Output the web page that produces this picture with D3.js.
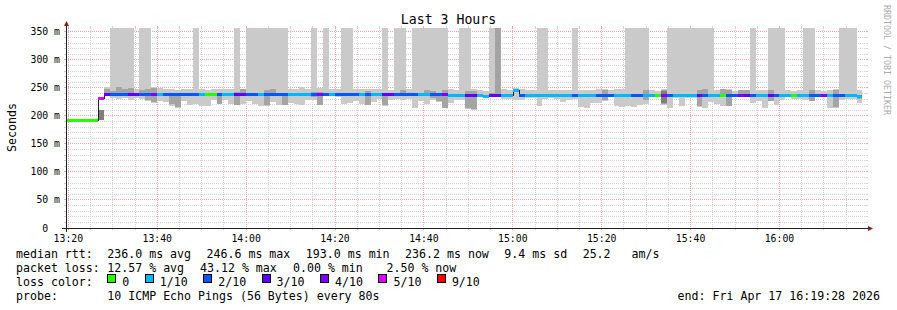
<!DOCTYPE html>
<meta charset="utf-8">
<style>
body { margin: 0; background: #fff; }
svg { display: block; font-family: "DejaVu Sans Mono", monospace; }
text { white-space: pre; }
</style>
<body>
  <svg id="graph" width="897" height="310"></svg>
</body>
<script src="https://d3js.org/d3.v7.min.js"></script>
<script>
// ---- data: one entry per 80 s step, index 0 = 13:18:40 UTC ----
var stepStart = Date.UTC(2026, 3, 17, 13, 18, 40),
  stepMs = 80 * 1000,
  endTime = Date.UTC(2026, 3, 17, 16, 19, 28),
  startTime = endTime - 3 * 3600 * 1000,
  yMax = 357.1;

// median rtt (ms)
var median = [
  193, 193, 193, 193, 193, 193, 233, 239, 239, 239,
  239, 239, 239, 239, 239, 239, 239, 239, 239, 239,
  239, 239, 239, 239, 239, 239, 239, 239, 239, 239,
  239, 239, 239, 239, 239, 239, 239, 239, 239, 239,
  239, 239, 239, 239, 239, 239, 239, 239, 239, 239,
  239, 239, 239, 239, 239, 239, 239, 239, 239, 239,
  239, 239, 239, 239, 239, 238, 238, 238, 238, 238,
  238, 236, 238, 238, 238, 238, 246.6, 237, 237, 237,
  237, 237, 237, 237, 237, 237, 237, 237, 237, 237,
  237, 237, 237, 237, 237, 237, 237, 237, 237, 237,
  237, 237, 237, 237, 237, 237, 237, 237, 237, 237,
  237, 237, 237, 237, 237, 237, 237, 237, 237, 237,
  237, 237, 237, 237, 237, 237, 237, 237, 237, 237,
  237, 237, 237, 237, 236.2, null
];

// lost pings out of 10
var loss = [
  0, 0, 0, 0, 0, 0, 5, 3, 2, 2,
  2, 3, 3, 2, 2, 4, 1, 2, 2, 2,
  2, 2, 2, 1, 0, 0, 2, 1, 1, 3,
  3, 2, 2, 1, 2, 2, 2, 2, 1, 1,
  1, 1, 2, 4, 2, 1, 2, 2, 2, 2,
  1, 2, 1, 1, 3, 3, 2, 2, 2, 2,
  1, 1, 2, 2, 4, 1, 1, 1, 3, 3,
  1, 1, 3, 3, 1, 1, 1, 2, 1, 1,
  1, 1, 1, 1, 1, 1, 2, 1, 1, 1,
  2, 2, 2, 1, 1, 1, 2, 2, 1, 1,
  0, 4, 2, 1, 1, 1, 1, 3, 2, 1,
  1, 0, 2, 2, 4, 3, 2, 1, 1, 3,
  2, 1, 1, 0, 1, 1, 2, 2, 4, 1,
  2, 2, 1, 1, 1, null
];

// outer smoke: fastest ping and slowest ping (999 = beyond the top)
var pingLow = [
  null, null, null, null, null, null, null, 235, 233, 231,
  233, 229, 233, 231, 226, 224, 227, 225, 218, 214,
  226, 220, 222, 218, 217, 229, 221, 228, 221, 219,
  222, 226, 222, 217, 217, 225, 220, 219, 224, 222,
  220, 228, 228, 219, 235, 235, 234, 222, 223, 226,
  222, 219, 225, 230, 218, 228, 231, 229, 230, 215,
  226, 222, 228, 225, 214, 223, 228, 228, 213, 211,
  235, 235, 234, 234, 230, 230, 229, 229, 232, 232,
  218, 231, 232, 230, 225, 228, 230, 216, 215, 224,
  224, 226, 234, 217, 216, 217, 216, 219, 221, 234,
  236, 220, 214, 232, 218, 232, 232, 216, 214, 225,
  221, 218, 217, 234, 234, 235, 223, 226, 214, 226,
  219, 229, 235, 231, 231, 229, 226, 234, 234, 215,
  215, 228, 231, 231, 224, null
];
var pingHigh = [
  null, null, null, null, null, null, null, 251, 999, 999,
  999, 999, 249, 999, 999, 251, 250, 248, 248, 247,
  248, 248, 999, 248, 247, 248, 249, 249, 248, 999,
  249, 999, 999, 999, 999, 999, 999, 999, 249, 248,
  252, 249, 999, 250, 999, 249, 248, 999, 999, 248,
  248, 249, 248, 248, 999, 247, 999, 999, 248, 999,
  999, 999, 999, 999, 999, 248, 247, 999, 999, 249,
  246, 244, 999, 999, 249, 247, 250, 248, 246, 246,
  999, 999, 246, 246, 246, 247, 999, 247, 246, 246,
  248, 248, 246, 249, 249, 999, 999, 999, 999, 247,
  245, 248, 999, 999, 999, 999, 999, 999, 999, 999,
  247, 249, 248, 244, 247, 247, 999, 247, 247, 999,
  999, 999, 247, 244, 247, 999, 999, 246, 244, 247,
  248, 999, 999, 999, 246, null
];

// inner smoke (only where it shows past the median line)
var darkSteps = [7, 8, 9, 10, 11, 13, 14, 15, 18, 19, 26, 29, 30, 34, 35, 37, 42, 43, 51, 54, 57,
  61, 62, 63, 64, 68, 69, 72, 73, 91, 98, 101, 107, 108, 111, 112, 114, 115, 119, 126, 130, 134];
var darkLow = [236, 236, 236, 236, 236, 236, 228, 225, 222, 216, 222, 220, 236, 219, 236, 220, 234, 220, 220, 219, 236,
  236, 232, 226, 215, 214, 212, 236, 235, 228, 228, 221, 217, 236, 236, 218, 236, 236, 227, 227, 216, 230];
var darkHigh = [249, 245, 251, 248, 250, 246, 248, 250, 241, 240, 240, 243, 248, 247, 249, 241, 242, 243, 244, 240, 247,
  247, 244, 241, 247, 244, 244, 241, 999, 247, 246, 247, 246, 248, 248, 247, 246, 246, 246, 246, 247, 236];
var coreSteps = [6, 101],
  coreLow = [193, 224],
  coreHigh = [211, 245];

var lossLevels = [0, 1, 2, 3, 4, 5, 9],
  lossLabels = ["0", "1/10", "2/10", "3/10", "4/10", "5/10", "9/10"],
  lossColors = ["#26ff00", "#00b8ff", "#0059ff", "#5e00ff", "#7e00ff", "#dd00ff", "#ff0000"];

var rttStats = ["236.0 ms avg", "246.6 ms max", "193.0 ms min", "236.2 ms now", "9.4 ms sd", "25.2   am/s"],
  lossStats = ["12.57 % avg", "43.12 % max", "0.00 % min", "2.50 % now"],
  probeText = "10 ICMP Echo Pings (56 Bytes) every 80s",
  endText = "end: Fri Apr 17 16:19:28 2026";

// ---- layout ----
var X0 = 66, X1 = 866, Y0 = 228, Y1 = 28;
var svg = d3.select("#graph");
var x = d3.scaleUtc().domain([startTime, endTime]).range([X0, X1]),
  y = d3.scaleLinear().domain([0, yMax]).range([Y0, Y1]);

function stepX(i) { return Math.max(X0, Math.min(X1, Math.round(x(stepStart + i * stepMs)))); }
function vy(v) { return Math.round(y(Math.min(v, yMax))); }
function lossColor(l) {
  var c = lossColors[0];
  lossLevels.forEach(function (lv, j) { if (l >= lv) c = lossColors[j]; });
  return c;
}

// grid
var grid = svg.append("g").attr("shape-rendering", "crispEdges");
var majorY = y.ticks(7).filter(function (v) { return v > 0; }),
  minorY = y.ticks(36).filter(function (v) { return v > 0 && v % 50 !== 0; });
var majorX = x.ticks(d3.utcMinute.every(20)),
  minorX = x.ticks(d3.utcMinute.every(5)).filter(function (t) { return t.getUTCMinutes() % 20 !== 0; });

function hLines(vals, color) {
  vals.forEach(function (v) {
    var yy = Math.floor(y(v)) + 0.5;
    grid.append("line").attr("x1", X0).attr("x2", X1).attr("y1", yy).attr("y2", yy)
      .attr("stroke", color).attr("stroke-dasharray", "1,1");
    grid.append("line").attr("x1", X0 - 2).attr("x2", X0).attr("y1", yy).attr("y2", yy).attr("stroke", color);
    grid.append("line").attr("x1", X1).attr("x2", X1 + 2).attr("y1", yy).attr("y2", yy).attr("stroke", color);
  });
}
function vLines(vals, color) {
  vals.forEach(function (t) {
    var xx = Math.floor(x(t)) + 0.5;
    grid.append("line").attr("x1", xx).attr("x2", xx).attr("y1", Y1).attr("y2", Y0)
      .attr("stroke", color).attr("stroke-dasharray", "1,1");
    grid.append("line").attr("x1", xx).attr("x2", xx).attr("y1", Y0).attr("y2", Y0 + 2).attr("stroke", color);
    grid.append("line").attr("x1", xx).attr("x2", xx).attr("y1", Y1 - 2).attr("y2", Y1).attr("stroke", color);
  });
}
hLines(minorY, "#d2d2d2");
vLines(minorX, "#d2d2d2");
hLines(majorY, "#f0a3a3");
vLines(majorX, "#f0a3a3");

// smoke
var smoke = svg.append("g").attr("shape-rendering", "crispEdges");
function band(steps, lows, highs, color) {
  steps.forEach(function (i, j) {
    var lo = lows[j], hi = highs[j];
    if (lo == null || hi == null) return;
    var xa = stepX(i), xb = stepX(i + 1);
    if (xb <= xa) return;
    smoke.append("rect").attr("x", xa).attr("width", xb - xa)
      .attr("y", vy(hi)).attr("height", vy(lo) - vy(hi)).attr("fill", color);
  });
}
band(d3.range(median.length), pingLow, pingHigh, "#cacaca");
band(darkSteps, darkLow, darkHigh, "#a4a4a4");
band(coreSteps, coreLow, coreHigh, "#7e7e7e");

// median: thin dark step line, then loss coloured segments
var pts = [];
median.forEach(function (v, i) { pts.push({ t: stepStart + i * stepMs, v: v }); });
var last = pts.filter(function (p) { return p.v != null; }).pop();
pts.push({ t: last.t + stepMs, v: last.v });
svg.append("defs").append("clipPath").attr("id", "canvas")
  .append("rect").attr("x", X0).attr("y", Y1).attr("width", X1 - X0).attr("height", Y0 - Y1);
var line = d3.line().defined(function (d) { return d.v != null; })
  .x(function (d) { return Math.round(x(d.t)) + 0.5; })
  .y(function (d) { return Math.round(y(d.v)) + 0.5; })
  .curve(d3.curveStepAfter);
svg.append("path").attr("d", line(pts)).attr("fill", "none").attr("stroke", "#202020")
  .attr("clip-path", "url(#canvas)").attr("shape-rendering", "crispEdges");

var med = svg.append("g").attr("shape-rendering", "crispEdges");
median.forEach(function (v, i) {
  if (v == null || loss[i] == null) return;
  var xa = stepX(i), xb = stepX(i + 1);
  if (xb <= xa) return;
  med.append("rect").attr("x", xa).attr("width", xb - xa)
    .attr("y", Math.round(y(v)) - 1).attr("height", 3).attr("fill", lossColor(loss[i]));
});

// axes
var axis = svg.append("g");
axis.append("line").attr("x1", X0 - 4).attr("x2", X1 + 2).attr("y1", Y0 + 0.5).attr("y2", Y0 + 0.5)
  .attr("stroke", "#1f1f1f").attr("shape-rendering", "crispEdges");
axis.append("line").attr("x1", X0 + 0.5).attr("x2", X0 + 0.5).attr("y1", Y0 + 4).attr("y2", Y1 - 2)
  .attr("stroke", "#1f1f1f").attr("shape-rendering", "crispEdges");
axis.append("path").attr("d", "M" + (X1 + 2) + "," + (Y0 - 2) + "L" + (X1 + 7) + "," + (Y0 + 0.5) + "L" + (X1 + 2) + "," + (Y0 + 3) + "Z")
  .attr("fill", "#801f1f");
axis.append("path").attr("d", "M" + (X0 - 2) + "," + (Y1 - 2) + "L" + (X0 + 0.5) + "," + (Y1 - 7) + "L" + (X0 + 3) + "," + (Y1 - 2) + "Z")
  .attr("fill", "#801f1f");

// tick labels
y.ticks(7).forEach(function (v) {
  svg.append("text").attr("x", 60).attr("y", y(v) + 3.5).attr("text-anchor", "end")
    .attr("font-size", "9.8px").attr("fill", "#000")
    .text(v === 0 ? "0\u00a0\u00a0" : v + " m");
});
var fmt = d3.utcFormat("%H:%M");
majorX.forEach(function (t) {
  svg.append("text").attr("x", x(t)).attr("y", 241.5).attr("text-anchor", "middle")
    .attr("font-size", "9.8px").text(fmt(t));
});

// titles
svg.append("text").attr("x", 448.5).attr("y", 24).attr("text-anchor", "middle")
  .attr("font-size", "13.2px").text("Last 3 Hours");
svg.append("text").attr("transform", "translate(15.5,127.5) rotate(-90)").attr("text-anchor", "middle")
  .attr("font-size", "11.6px").text("Seconds");
svg.append("text").attr("transform", "translate(884,5) rotate(90)")
  .attr("font-size", "8.3px").attr("fill", "#aaaaaa").text("RRDTOOL / TOBI OETIKER");

// legend
var lf = "11.6px", cw = 6.98, gap = 15.5, col = 107.3;
var lg = svg.append("g").attr("font-size", lf);
function legendRow(label, items, by, starts) {
  lg.append("text").attr("x", 16).attr("y", by).text(label);
  var px = col;
  items.forEach(function (s, j) {
    var xx = starts ? starts[j] : px;
    lg.append("text").attr("x", xx).attr("y", by).text(s);
    px = xx + s.length * cw + gap;
  });
}
legendRow("median rtt:", rttStats, 257.5);
legendRow("packet loss:", lossStats, 271.5, [107.3, 200, 293, 386.5]);

lg.append("text").attr("x", 16).attr("y", 285.5).text("loss color:");
var bx = col;
lossLabels.forEach(function (lab, j) {
  lg.append("rect").attr("x", bx + 0.5).attr("y", 274.5).attr("width", 8).attr("height", 8)
    .attr("fill", lossColors[j]).attr("stroke", "#000").attr("shape-rendering", "crispEdges");
  lg.append("text").attr("x", bx + 15).attr("y", 285.5).text(lab);
  bx = bx + 15 + lab.length * cw + gap;
});

lg.append("text").attr("x", 16).attr("y", 299.5).text("probe:");
lg.append("text").attr("x", col).attr("y", 299.5).text(probeText);
lg.append("text").attr("x", 880).attr("y", 299.5).attr("text-anchor", "end").text(endText);
</script>
